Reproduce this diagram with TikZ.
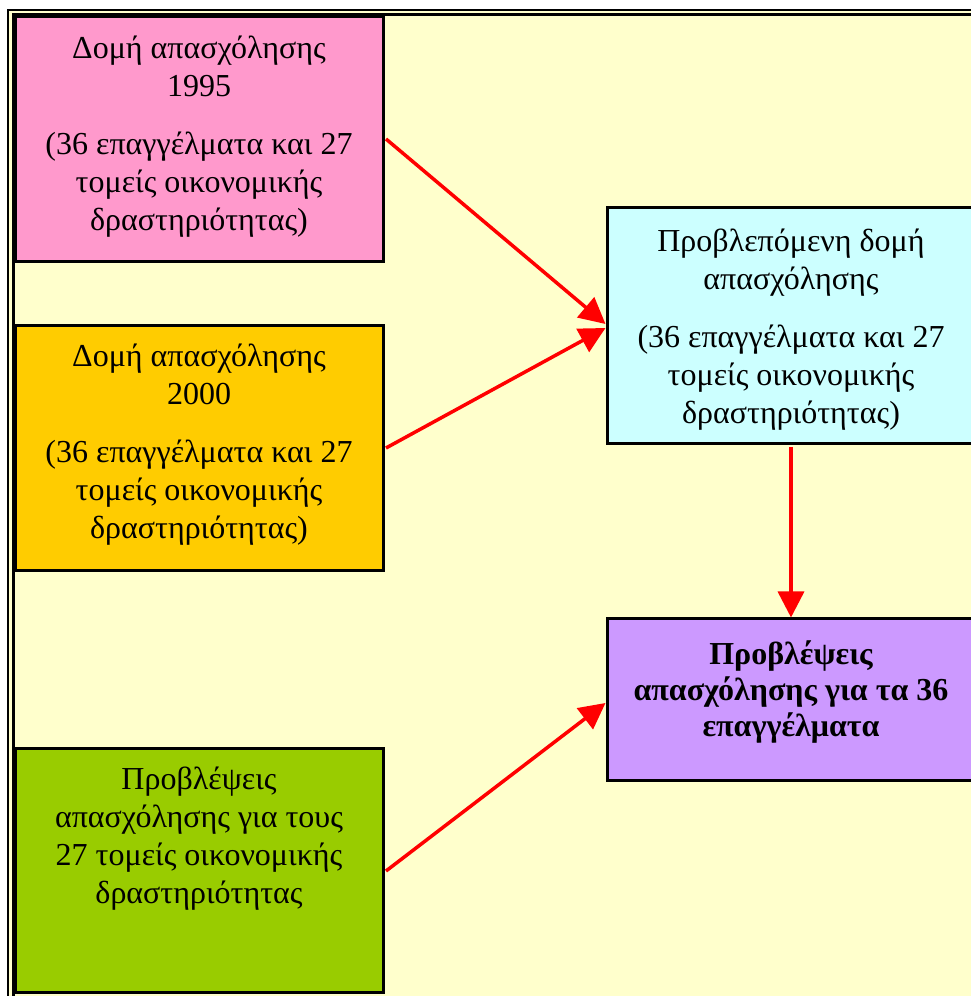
\documentclass[tikz,border=0pt]{standalone}
\usepackage{fontspec}
\setmainfont{Liberation Serif}
\usetikzlibrary{arrows.meta}
\definecolor{bgy}{HTML}{FFFFCC}
\definecolor{pinkc}{HTML}{FF99CC}
\definecolor{orangec}{HTML}{FFCC00}
\definecolor{greenc}{HTML}{99CC00}
\definecolor{cyanc}{HTML}{CCFFFF}
\definecolor{purplec}{HTML}{CC99FF}
\definecolor{arrred}{HTML}{FF0000}
\tikzset{
  box/.style={draw=black, line width=3pt, rectangle, inner sep=0pt},
  btext/.style={align=center, font=\fontsize{32}{38}\selectfont, anchor=north, inner sep=0pt},
  conn/.style={draw=arrred, line width=3.5pt, -{Triangle[length=26pt,width=26pt]}}
}
\begin{document}
\begin{tikzpicture}[x=1pt,y=1pt]
\useasboundingbox (0,0) rectangle (970,996);
\fill[white] (0,0) rectangle (970,996);
% frame
\fill[bgy] (8,0) rectangle (980,986);
\draw[black, line width=2pt] (8,-10) -- (8,986) -- (980,986);
\draw[black, line width=3pt] (13.5,-10) -- (13.5,981.5) -- (980,981.5);
% boxes (y = 996 - image y)
\node[box, fill=pinkc, minimum width=368pt, minimum height=245pt] (p) at (199,857) {};
\node[box, fill=orangec, minimum width=368pt, minimum height=245pt] (o) at (199,548) {};
\node[box, fill=greenc, minimum width=368pt, minimum height=244pt] (g) at (199,125) {};
\node[box, fill=cyanc, minimum width=368pt, minimum height=236pt] (c) at (791,670) {};
\node[box, fill=purplec, minimum width=368pt, minimum height=162pt] (u) at (791,296) {};
% texts
\node[btext] (pt) at ([yshift=-21pt]p.north) {Δομή απασχόλησης\\1995\\[20pt](36 επαγγέλματα και 27\\τομείς οικονομικής\\δραστηριότητας)};
\node[btext] (ot) at ([yshift=-20pt]o.north) {Δομή απασχόλησης\\2000\\[20pt](36 επαγγέλματα και 27\\τομείς οικονομικής\\δραστηριότητας)};
\node[btext] (gt) at ([yshift=-19pt]g.north) {Προβλέψεις\\απασχόλησης για τους\\27 τομείς οικονομικής\\δραστηριότητας};
\node[btext] (ct) at ([yshift=-22pt]c.north) {Προβλεπόμενη δομή\\απασχόλησης\\[20pt](36 επαγγέλματα και 27\\τομείς οικονομικής\\δραστηριότητας)};
\node[btext, font=\fontsize{32}{36}\selectfont\bfseries] (ut) at ([yshift=-23pt]u.north) {Προβλέψεις\\απασχόλησης για τα 36\\επαγγέλματα};
% connectors
\draw[conn] ([xshift=1.5pt]p.east) -- ([yshift=2pt]c.west);
\draw[conn] ([xshift=1.5pt]o.east) -- ([yshift=-2pt]c.west);
\draw[conn] ([yshift=-1.5pt]c.south) -- (u.north);
\draw[conn] ([xshift=1.5pt]g.east) -- ([yshift=-3pt]u.west);
\end{tikzpicture}
\end{document}
